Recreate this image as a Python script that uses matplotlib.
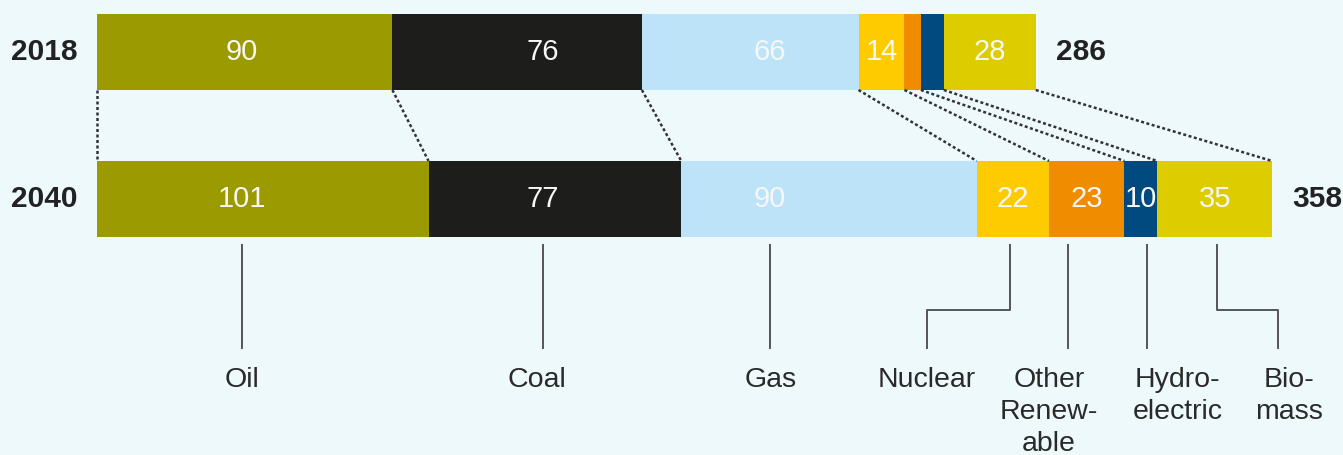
import matplotlib
matplotlib.use("Agg")
import matplotlib.pyplot as plt
import numpy as np

plt.rcParams['font.family'] = ['Liberation Sans', 'DejaVu Sans']

# ---- data ----
years = ["2018", "2040"]
categories = ["Oil", "Coal", "Gas", "Nuclear", "Other Renewable", "Hydroelectric", "Biomass"]
values_2018 = [90, 76, 66, 14, 5, 7, 28]
values_2040 = [101, 77, 90, 22, 23, 10, 35]
labels_2018 = ["90", "76", "66", "14", "", "", "28"]
labels_2040 = ["101", "77", "90", "22", "23", "10", "35"]
totals = [286, 358]
category_labels = ["Oil", "Coal", "Gas", "Nuclear", "Other\nRenew-\nable", "Hydro-\nelectric", "Bio-\nmass"]

# ---- styles / layout ----
colors = ["#9b9a00", "#1d1d1b", "#bde3f8", "#fecb00", "#ef8c00", "#004a7f", "#dccc00"]
bg = "#eef9fc"
# leader line x (in value units): top, bottom; label text x
leader_top_x = [44.2, 135.9, 205.0, 278.1, 295.8, 319.9, 341.2]
leader_bot_x = [44.2, 135.9, 205.0, 252.8, 295.8, 319.9, 359.8]
label_x = [44.2, 134.0, 205.3, 252.8, 290.0, 329.3, 363.1]
value_at_leader = [True, True, True, False, False, False, False]

W, H = 1343, 455
fig = plt.figure(figsize=(W / 100, H / 100), dpi=100, facecolor=bg)
ax = fig.add_axes([0, 0, 1, 1])
ax.set_facecolor(bg)
scale = 3.2825
ax.set_xlim(-97 / scale, (W - 97) / scale)
def ypx(p):
    return (p - 52) / 147.0
ax.set_ylim(ypx(H), ypx(0))
ax.axis("off")

bar_h = 76 / 147.0
series = [values_2018, values_2040]
labels = [labels_2018, labels_2040]
for yi, vals in enumerate(series):
    lefts = np.concatenate([[0], np.cumsum(vals)[:-1]])
    ax.barh(yi, vals, left=lefts, height=bar_h, color=colors, linewidth=0)
    for i, (l, v, t) in enumerate(zip(lefts, vals, labels[yi])):
        if not t:
            continue
        x = leader_top_x[i] if value_at_leader[i] else l + v / 2
        ax.text(x, yi, t, ha="center", va="center", color="#f7f7f7", fontsize=21)
    ax.text(-5.8, yi, years[yi], ha="right", va="center", fontsize=21.5,
            fontweight="bold", color="#222222")
    ax.text(sum(vals) + 6.2, yi, str(totals[yi]), ha="left", va="center", fontsize=21.5,
            fontweight="bold", color="#222222")

# dotted connectors between boundaries
b18 = np.concatenate([[0], np.cumsum(values_2018)])
b40 = np.concatenate([[0], np.cumsum(values_2040)])
for a, b in zip(b18, b40):
    ax.plot([a, b], [bar_h / 2, 1 - bar_h / 2], color="#333333", lw=1.8,
            linestyle=(0, (1.2, 1.0)), solid_capstyle="butt", zorder=1)

# leader lines and labels
y_top, y_elb, y_bot, y_lab = ypx(245), ypx(310), ypx(348), ypx(367)
for i, lab in enumerate(category_labels):
    xt, xb = leader_top_x[i], leader_bot_x[i]
    if abs(xt - xb) < 1e-6:
        ax.plot([xt, xt], [y_top, y_bot], color="#555555", lw=1.4)
    else:
        ax.plot([xt, xt, xb, xb], [y_top, y_elb, y_elb, y_bot], color="#555555", lw=1.4)
    ax.text(label_x[i], y_lab, lab, ha="center", va="top", fontsize=20.5,
            color="#2a2a2a", linespacing=1.3)

fig.savefig("out.png", dpi=100, facecolor=bg)
